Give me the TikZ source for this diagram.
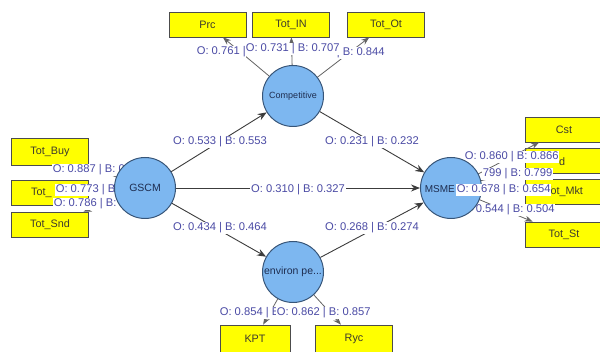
\documentclass[tikz,border=0pt]{standalone}
\usepackage{fontspec}
\setmainfont{Liberation Sans}
\usetikzlibrary{arrows.meta}

\definecolor{latfill}{RGB}{125,183,240}
\definecolor{latline}{RGB}{55,85,120}
\definecolor{lattext}{RGB}{30,45,80}
\definecolor{indfill}{RGB}{255,255,0}
\definecolor{lbl}{RGB}{75,75,165}
\definecolor{edge}{RGB}{60,60,60}

\tikzset{
  latent/.style={circle, draw=latline, fill=latfill, line width=1pt, minimum size=61pt,
    inner sep=0pt, text=lattext, font=\fontsize{10.5}{12}\selectfont},
  indicator/.style={draw=black!70, fill=indfill, line width=0.8pt, minimum width=77pt,
    minimum height=25pt, inner sep=0pt, text=black!75!olive, font=\fontsize{10.8}{13}\selectfont},
  boxtext/.style={inner sep=0pt, text=black!75!olive, font=\fontsize{10.8}{13}\selectfont},
  weight/.style={fill=white, inner sep=0.6pt, text=lbl, font=\fontsize{11.2}{13}\selectfont},
  link/.style={draw=edge, line width=0.9pt, -{Stealth[length=9pt,width=7pt]}},
  reflect/.style={draw=edge!80, line width=0.8pt, -{Stealth[length=8pt,width=6pt]}}
}

\begin{document}
\begin{tikzpicture}[x=1pt,y=-1pt]
\useasboundingbox (0,0) rectangle (600,352);
\clip (0,0) rectangle (600,352);

% indicators
\node[indicator] (prc) at (207.5,24.5) {Prc};
\node[indicator] (totin) at (291,24.5) {Tot\_IN};
\node[indicator] (totot) at (386,24.5) {Tot\_Ot};
\node[indicator, minimum height=27pt] (totbuy) at (50,151.5) {Tot\_Buy};
\node[indicator] (totc) at (50,192.5) {};
\node[boxtext, anchor=west] (totctxt) at (31,193) {Tot\_};
\node[indicator] (totsnd) at (50,224.5) {Tot\_Snd};
\node[indicator] (cst) at (564,129.5) {Cst};
\node[indicator] (prd) at (564,160.5) {};
\node[boxtext, anchor=west] (prdtxt) at (559,162) {d};
\node[indicator] (mkt) at (564,192) {Tot\_Mkt};
\node[indicator] (totst) at (564,234.5) {Tot\_St};
\node[indicator, minimum width=70pt, minimum height=28pt] (kpt) at (255,339) {KPT};
\node[indicator, minimum height=28pt] (ryc) at (354,339) {Ryc};

% latent variables (drawn as coordinates first, circles later)
\coordinate (gscm) at (145,188);
\coordinate (comp) at (293,96);
\coordinate (env) at (293,272);
\coordinate (msme) at (451,188);

% outer model
\draw[reflect, shorten <=30pt] (comp) -- (prc);
\draw[reflect, shorten <=30pt] (comp) -- (totin);
\draw[reflect, shorten <=30pt] (comp) -- (totot);
\draw[reflect, shorten <=30pt] (gscm) -- (totbuy);
\draw[reflect, shorten <=30pt] (gscm) -- (totc);
\draw[reflect, shorten <=30pt] (gscm) -- (totsnd);
\draw[reflect, shorten <=30pt] (msme) -- (cst);
\draw[reflect, shorten <=30pt] (msme) -- (prd);
\draw[reflect, shorten <=30pt] (msme) -- (mkt);
\draw[reflect, shorten <=30pt] (msme) -- (totst);
\draw[reflect, shorten <=30pt] (env) -- (kpt);
\draw[reflect, shorten <=30pt] (env) -- (ryc);

% inner model
\draw[link, shorten <=30pt, shorten >=31pt] (gscm) -- (comp);
\draw[link, shorten <=30pt, shorten >=31pt] (gscm) -- (msme);
\draw[link, shorten <=30pt, shorten >=31pt] (gscm) -- (env);
\draw[link, shorten <=31pt, shorten >=31pt] (comp) -- (msme);
\draw[link, shorten <=31pt, shorten >=31pt] (env) -- (msme);

\node[weight] (w1) at (220,142) {O: 0.533 | B: 0.553};
\node[weight] (w2) at (372,142) {O: 0.231 | B: 0.232};
\node[weight] (w3) at (298,190) {O: 0.310 | B: 0.327};
\node[weight] (w4) at (220,228) {O: 0.434 | B: 0.464};
\node[weight] (w5) at (372,228) {O: 0.268 | B: 0.274};

% loadings
\node[weight, anchor=west] (lprc) at (196,52) {O: 0.761 |};
\node[weight, anchor=west] (ltotot) at (336,53) {| B: 0.844};
\node[weight, anchor=west] (ltotin) at (245,49) {O: 0.731 | B: 0.707};
\node[weight, anchor=west] (lbuy) at (52,170) {O: 0.887 | B: 0};
\node[weight, anchor=west] (lsnd) at (53,204) {O: 0.786 | B:};
\node[weight, anchor=west] (ltotc) at (55,190) {O: 0.773 | B};
\node[weight, anchor=west] (lcst) at (464,157) {O: 0.860 | B: 0.866};
\node[weight, anchor=west] (lprd) at (482,174) {799 | B: 0.799};
\node[weight, anchor=west] (ltotst) at (475,210) {0.544 | B: 0.504};
\node[weight, anchor=west] (lkpt) at (219,313) {O: 0.854 | B};
\node[weight, anchor=west] (lryc) at (276,313) {O: 0.862 | B: 0.857};

% circles
\node[latent] (gscmc) at (gscm) {GSCM};
\node[latent, font=\fontsize{9}{10}\selectfont] (compc) at (comp) {Competitive};
\node[latent] (envc) at (env) {\raisebox{-3pt}{environ pe...}};
\node[latent] (msmec) at (msme) {};
\node[text=lattext, inner sep=0pt, font=\fontsize{10}{12}\selectfont, anchor=east] (msmetxt) at (455,189) {MSME};

\node[weight, anchor=west] (lmkt) at (456,190) {O: 0.678 | B: 0.654};
\end{tikzpicture}
\end{document}
